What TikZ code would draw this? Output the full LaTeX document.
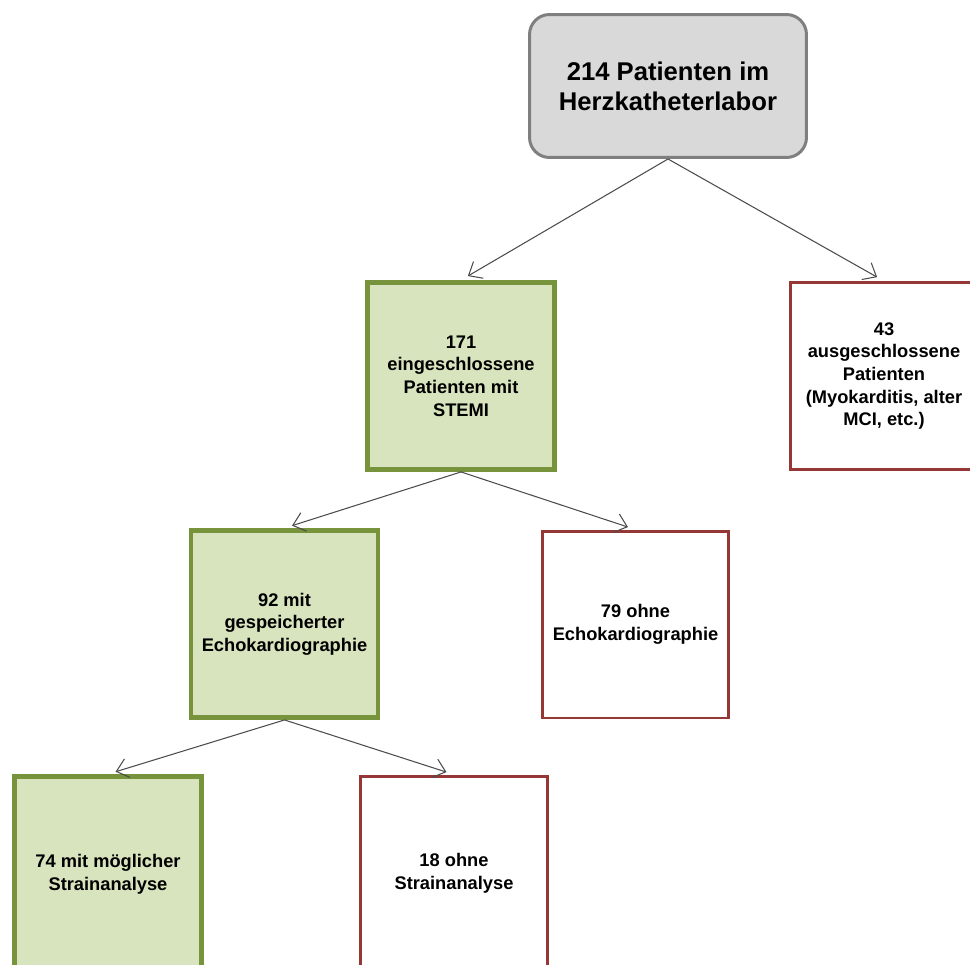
\documentclass[tikz,border=0pt]{standalone}
\usepackage{fontspec}
\setmainfont{Liberation Sans}
\usetikzlibrary{arrows.meta}

\definecolor{boxgreen}{HTML}{77933C}
\definecolor{fillgreen}{HTML}{D7E4BD}
\definecolor{boxred}{HTML}{953735}
\definecolor{boxgray}{HTML}{7F7F7F}
\definecolor{fillgray}{HTML}{D9D9D9}

\begin{document}
\begin{tikzpicture}[x=0.02cm, y=-0.02cm,
  font=\bfseries\fontsize{10.4}{12.9}\selectfont,
  inbox/.style={draw=boxgreen, fill=fillgreen, line width=2.8pt,
    minimum width=3.74cm, minimum height=3.74cm, align=center},
  outbox/.style={draw=boxred, line width=1.7pt,
    minimum width=3.74cm, minimum height=3.74cm, align=center},
  flow/.style={-{Straight Barb[length=6.5pt,width=11pt]}, draw=black!70,
    line width=0.6pt, shorten >=4.5pt}]
  \useasboundingbox (0,0) rectangle (970,964);
  \clip (0,0) rectangle (970,964);

  % start
  \node[draw=boxgray, fill=fillgray, line width=1.7pt, rounded corners=0.4cm,
    minimum width=5.54cm, minimum height=2.86cm, align=center,
    font=\bfseries\fontsize{14.6}{17}\selectfont] (all) at (668,86)
    {214 Patienten im\\Herzkatheterlabor};

  % first split
  \node[inbox] (stemi) at (461,376)
    {171\\eingeschlossene\\Patienten mit\\STEMI};
  \node[outbox] (excl) at (884,376)
    {43\\ausgeschlossene\\Patienten\\(Myokarditis, alter\\MCI, etc.)};

  % second split
  \node[inbox] (echo) at (284.5,624)
    {92 mit\\gespeicherter\\Echokardiographie};
  \node[outbox] (noecho) at (635.5,624.5)
    {79 ohne\\Echokardiographie};

  % third split (cut off at the bottom)
  \node[inbox, minimum height=3.9cm] (strain) at (108,874)
    {74 mit möglicher\\Strainanalyse};
  \node[outbox, minimum height=3.9cm] (nostrain) at (454,873.5)
    {18 ohne\\Strainanalyse};

  \draw[flow] (all.south) -- (stemi.north);
  \draw[flow] (all.south) -- (excl.north);
  \draw[flow] (stemi.south) -- (echo.north);
  \draw[flow] (stemi.south) -- (noecho.north);
  \draw[flow] (echo.south) -- (strain.north);
  \draw[flow] (echo.south) -- (nostrain.north);
\end{tikzpicture}
\end{document}
